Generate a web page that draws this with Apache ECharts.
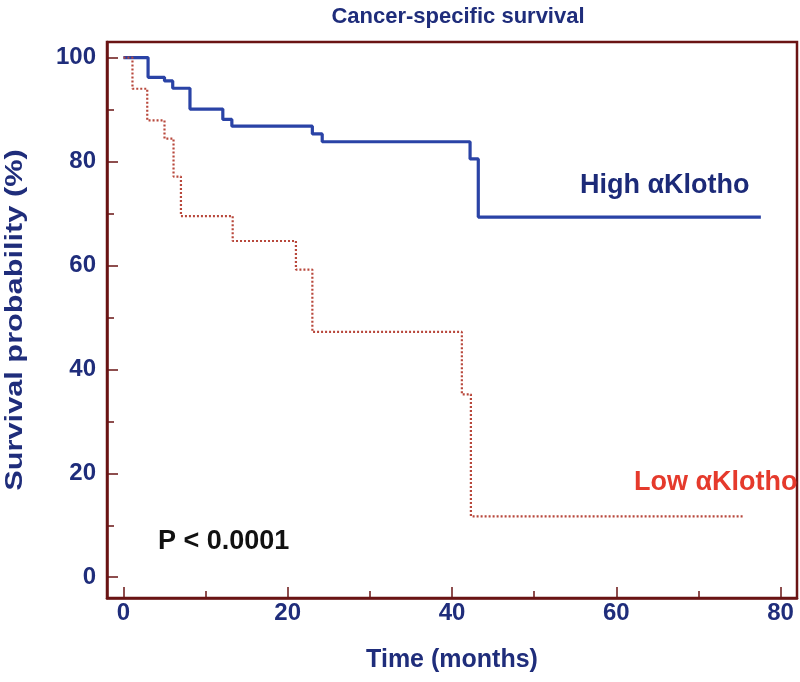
<!DOCTYPE html>
<html><head><meta charset="utf-8">
<script src="https://cdn.jsdelivr.net/npm/echarts@6/dist/echarts.min.js"></script>
<style>html,body{margin:0;padding:0;background:#fff}#c{width:800px;height:682px}</style>
</head><body><div id="c"></div>
<script>
const highTimes = [0, 3, 5, 6, 8.1, 12.1, 13.2, 23, 24.2, 42.2, 43.2, 77.6];
const highSurv  = [100, 96.2, 95.5, 94.1, 90.1, 88.1, 86.8, 85.3, 83.8, 80.5, 69.3, 69.3];
const lowTimes  = [0, 1.1, 2.9, 5.0, 6.1, 7.0, 13.3, 21.0, 23.0, 41.2, 42.3, 75.6];
const lowSurv   = [100, 94.0, 87.9, 84.4, 77.1, 69.5, 64.7, 59.2, 47.2, 35.2, 11.7, 11.7];
const xMajor = [0, 20, 40, 60, 80];
const xMinor = [10, 30, 50, 70];
const yMajor = [0, 20, 40, 60, 80, 100];
const yMinor = [10, 30, 50, 70, 90];

const FONT = "'Liberation Sans', Arial, sans-serif";
const NAVY = '#1f2d7b';
const FRAME = '#6a1414';
const chart = echarts.init(document.getElementById('c'));
const grid = {left:107, right:3, top:42, bottom:84, show:true, borderColor:FRAME, borderWidth:2.5, backgroundColor:'#fff'};
const lbl = {fontFamily:FONT, fontWeight:'bold', fontSize:24, color:NAVY};
chart.setOption({
  animation:false,
  title:{text:'Cancer-specific survival', left:453, textAlign:'center', top:1,
    textStyle:{fontFamily:FONT, fontWeight:'bold', fontSize:22, color:NAVY}},
  grid:grid,
  xAxis:[
    {type:'value', min:-2, max:82, splitLine:{show:false},
     axisLine:{show:true, onZero:false, lineStyle:{color:FRAME, width:2.5}},
     axisTick:{show:true, inside:true, length:11, customValues:xMajor, lineStyle:{color:FRAME, width:1.5}},
     axisLabel:Object.assign({customValues:xMajor, margin:3}, lbl),
     name:'Time (months)', nameLocation:'middle', nameGap:50,
     nameTextStyle:{fontFamily:FONT, fontWeight:'bold', fontSize:25, color:NAVY}},
    {type:'value', min:-2, max:82, position:'bottom', splitLine:{show:false},
     axisLine:{show:false, onZero:false},
     axisTick:{show:true, inside:true, length:7, customValues:xMinor, lineStyle:{color:FRAME, width:1.5}},
     axisLabel:{show:false}}
  ],
  yAxis:[
    {type:'value', min:-4, max:103, splitLine:{show:false},
     axisLine:{show:true, onZero:false, lineStyle:{color:FRAME, width:2.5}},
     axisTick:{show:true, inside:true, length:11, customValues:yMajor, lineStyle:{color:FRAME, width:1.5}},
     axisLabel:Object.assign({customValues:yMajor, margin:11}, lbl)},
    {type:'value', min:-4, max:103, position:'left', splitLine:{show:false},
     axisLine:{show:false, onZero:false},
     axisTick:{show:true, inside:true, length:7, customValues:yMinor, lineStyle:{color:FRAME, width:1.5}},
     axisLabel:{show:false}}
  ],
  series:[
    {type:'line', step:'end', symbol:'none', xAxisIndex:0, yAxisIndex:0,
     data:highTimes.map((t,i)=>[t, highSurv[i]]),
     lineStyle:{color:'#2a43a6', width:3.2}},
    {type:'line', step:'end', symbol:'none', xAxisIndex:0, yAxisIndex:0,
     data:lowTimes.map((t,i)=>[t, lowSurv[i]]),
     lineStyle:{color:'#b8483c', width:2.2, type:[2,2]}}
  ],
  graphic:[
    {type:'text', x:15, y:320, rotation:Math.PI/2, scaleX:1.28,
     style:{text:'Survival probability (%)', fontFamily:FONT, fontWeight:'bold', fontSize:24, fill:NAVY,
            textAlign:'center', textVerticalAlign:'middle'}},
    {type:'text', left:580, top:172, style:{text:'High \u03b1Klotho', fontFamily:FONT, fontWeight:'bold', fontSize:27, fill:'#1c2a78'}},
    {type:'text', left:634, top:469, style:{text:'Low \u03b1Klotho', fontFamily:FONT, fontWeight:'bold', fontSize:27, fill:'#e53a2c'}},
    {type:'text', left:158, top:528, style:{text:'P < 0.0001', fontFamily:FONT, fontWeight:'bold', fontSize:27, fill:'#111'}}
  ]
});
</script></body></html>
